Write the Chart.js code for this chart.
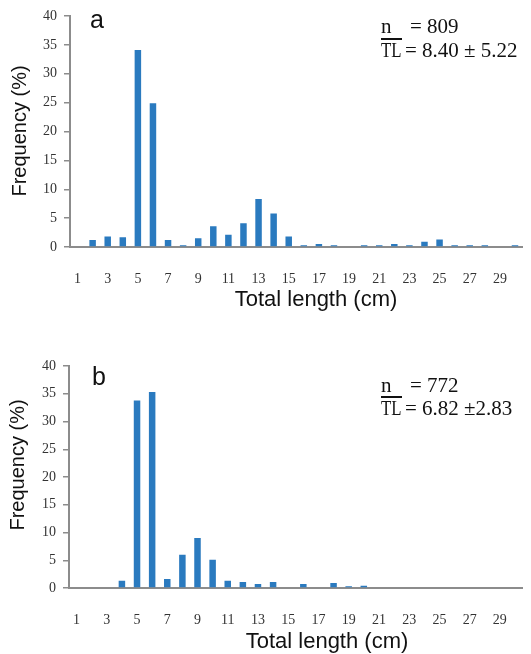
<!DOCTYPE html>
<html>
<head>
<meta charset="utf-8">
<script src="https://cdn.jsdelivr.net/npm/chart.js@4"></script>
<style>
  html, body { margin: 0; padding: 0; background: #fff; }
  .painel { position: absolute; left: 0; width: 531px; }
  #painelA { top: 0; height: 320px; }
  #painelB { top: 320px; height: 334px; }
</style>
</head>
<body>
<div class="painel" id="painelA"><canvas id="chartA"></canvas></div>
<div class="painel" id="painelB"><canvas id="chartB"></canvas></div>
<script>
// Classes de comprimento total (cm)
const categories = ['1', '2', '3', '4', '5', '6', '7', '8', '9', '10',
    '11', '12', '13', '14', '15', '16', '17', '18', '19', '20',
    '21', '22', '23', '24', '25', '26', '27', '28', '29', '30'];

// Frequência (%) - painel a
const freqA = [0, 1.2, 1.8, 1.7, 34.1, 24.9, 1.2, 0.3, 1.5, 3.6, 2.1, 4.1, 8.3, 5.8, 1.8,
    0.3, 0.5, 0.3, 0, 0.3, 0.3, 0.5, 0.3, 0.9, 1.3, 0.3, 0.3, 0.3, 0, 0.3];

// Frequência (%) - painel b
const freqB = [0, 0, 0, 1.3, 33.8, 35.3, 1.6, 6.0, 9.0, 5.1, 1.3, 1.1, 0.7, 1.1, 0,
    0.7, 0, 0.9, 0.3, 0.4, 0, 0, 0, 0, 0, 0, 0, 0, 0, 0];

const yTicks = [0, 5, 10, 15, 20, 25, 30, 35, 40];

const statsA = ['= 809', '= 8.40 \u00b1 5.22'];
const statsB = ['= 772', '= 6.82 \u00b12.83'];

const corBarra = '#2a7abf';
const corEixo = '#8c8c8c';

// Textos desenhados por cima do gráfico (letra, n, TL e títulos dos eixos)
const anotacoes = {
    id: 'anotacoes',
    afterDraw(chart, args, o) {
        const ctx = chart.ctx;
        ctx.save();
        ctx.fillStyle = '#111';
        ctx.textBaseline = 'alphabetic';
        ctx.textAlign = 'left';

        ctx.font = '25px "Liberation Sans", Arial, sans-serif';
        ctx.fillText(o.letra, o.letraX, o.letraY);

        ctx.font = '21px "Liberation Serif", "Times New Roman", serif';
        ctx.fillText('n', 381, o.nY);
        ctx.fillText(o.stats[0], 410, o.nY);
        ctx.fillText(o.stats[1], 405, o.tlY);

        // TL mais estreito, como no original
        ctx.save();
        ctx.translate(381, o.tlY);
        ctx.scale(0.8, 1);
        ctx.fillText('TL', 0, 0);
        ctx.restore();

        ctx.strokeStyle = '#111';
        ctx.lineWidth = 2;
        ctx.beginPath();
        ctx.moveTo(381, o.linhaY);
        ctx.lineTo(402, o.linhaY);
        ctx.stroke();

        ctx.textAlign = 'center';
        ctx.textBaseline = 'middle';
        ctx.font = '22px "Liberation Sans", Arial, sans-serif';
        ctx.fillText('Total length (cm)', o.xTitX, o.xTitY);

        ctx.font = '20px "Liberation Sans", Arial, sans-serif';
        ctx.translate(o.yTitX, o.yTitY);
        ctx.rotate(-Math.PI / 2);
        ctx.fillText('Frequency (%)', 0, 0);
        ctx.restore();
    }
};

function criarGrafico(canvasId, dados, cfg) {
    const ctx = document.getElementById(canvasId).getContext('2d');
    return new Chart(ctx, {
        type: 'bar',
        data: {
            labels: categories,
            datasets: [{
                data: dados,
                backgroundColor: corBarra,
                borderWidth: 0,
                barPercentage: 0.43,
                categoryPercentage: 1
            }]
        },
        options: {
            responsive: true,
            maintainAspectRatio: false,
            animation: false,
            layout: { padding: { top: cfg.topo, left: 0, right: 1, bottom: 0 } },
            plugins: {
                legend: { display: false },
                tooltip: { enabled: false },
                anotacoes: cfg.notas
            },
            scales: {
                x: {
                    grid: { display: false },
                    border: { display: true, color: corEixo, width: 2 },
                    ticks: {
                        autoSkip: false,
                        maxRotation: 0,
                        padding: 16,
                        color: '#333',
                        font: { family: '"Liberation Serif", serif', size: 14 },
                        callback: function (v, i) {
                            return i % 2 === 0 ? this.getLabelForValue(v) : '';
                        }
                    },
                    afterFit: s => { s.height = cfg.alturaX; }
                },
                y: {
                    min: 0,
                    max: 40,
                    grid: { drawOnChartArea: false, drawTicks: true, tickLength: 6, color: corEixo, lineWidth: 1.5 },
                    border: { display: true, color: corEixo, width: 2 },
                    ticks: {
                        padding: 7,
                        color: '#333',
                        font: { family: '"Liberation Serif", serif', size: 14 }
                    },
                    afterBuildTicks: s => { s.ticks = yTicks.map(v => ({ value: v })); },
                    afterFit: s => { s.width = cfg.larguraY; }
                }
            }
        },
        plugins: [anotacoes]
    });
}

criarGrafico('chartA', freqA, {
    topo: 16, alturaX: 73, larguraY: 70,
    notas: {
        letra: 'a', letraX: 90, letraY: 28,
        stats: statsA, nY: 33, linhaY: 39, tlY: 57,
        xTitX: 316, xTitY: 300, yTitX: 20, yTitY: 131
    }
});

criarGrafico('chartB', freqB, {
    topo: 46, alturaX: 66, larguraY: 69,
    notas: {
        letra: 'b', letraX: 92, letraY: 65,
        stats: statsB, nY: 72, linhaY: 77, tlY: 95,
        xTitX: 327, xTitY: 322, yTitX: 18, yTitY: 145
    }
});
</script>
</body>
</html>
